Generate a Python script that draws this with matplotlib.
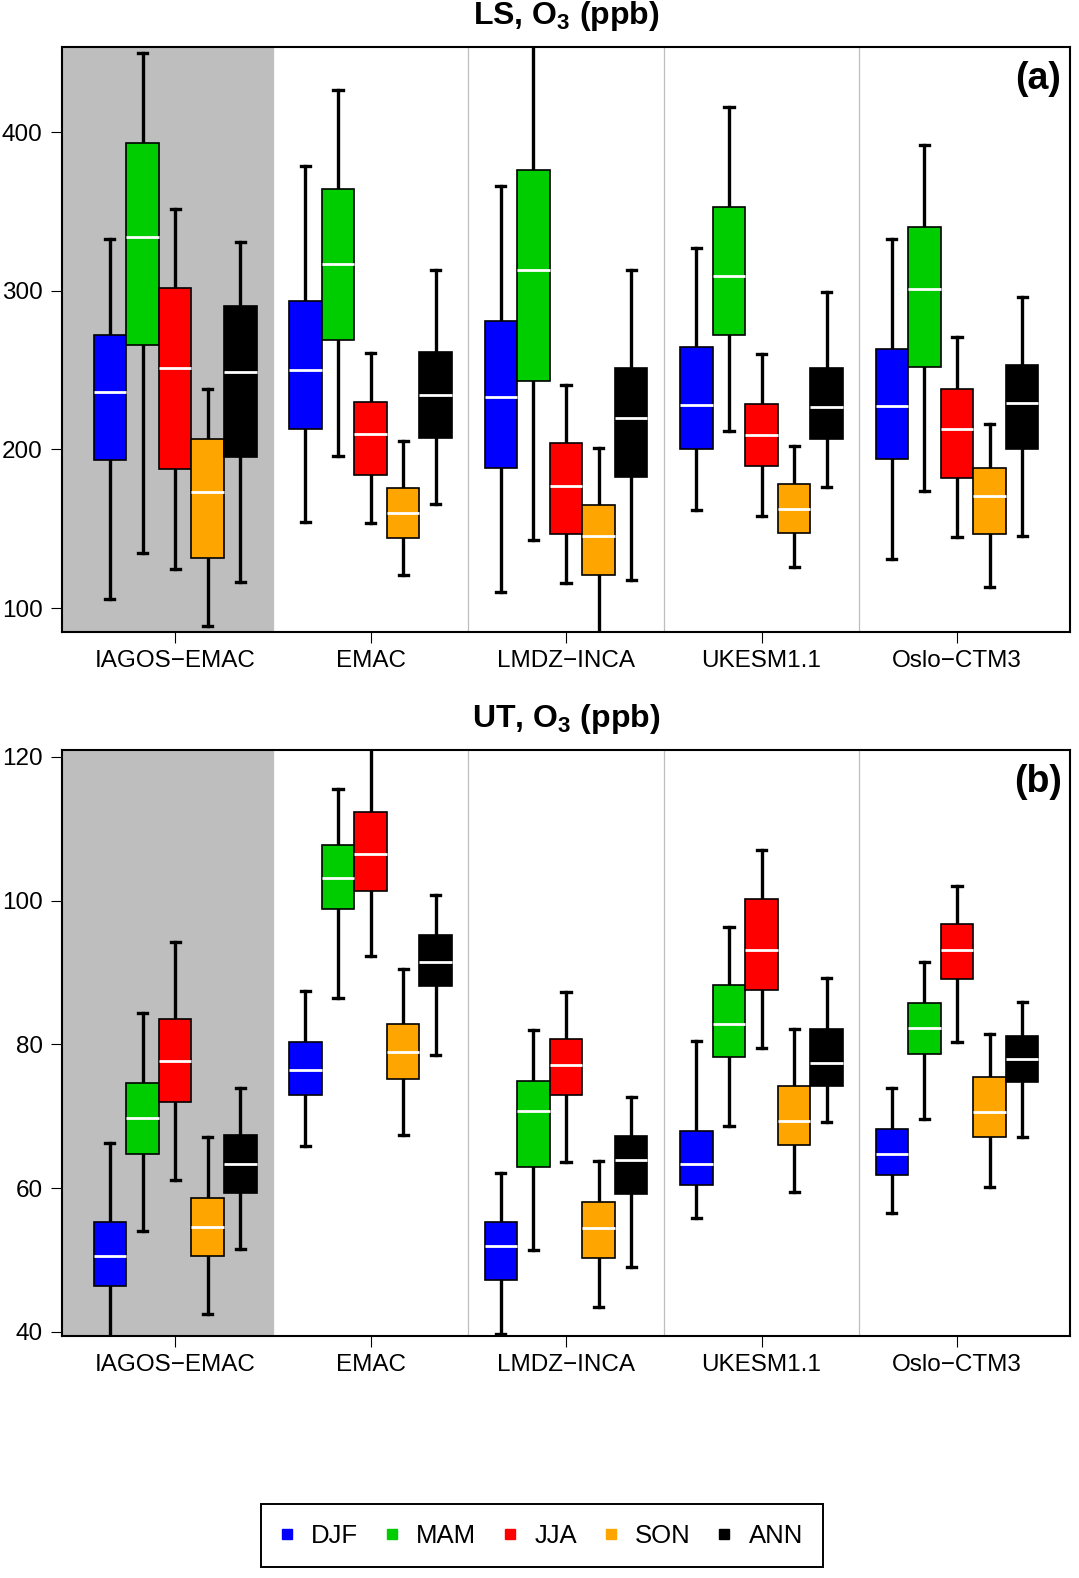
import matplotlib
matplotlib.use("Agg")
import matplotlib.pyplot as plt
from matplotlib.lines import Line2D
from matplotlib.patches import Rectangle

plt.rcParams["font.family"] = ["Liberation Sans", "DejaVu Sans"]
plt.rcParams["mathtext.fontset"] = "custom"
plt.rcParams["mathtext.rm"] = "Liberation Sans"
plt.rcParams["mathtext.bf"] = "Liberation Sans:bold"

# Categories
models = ["IAGOS\u2212EMAC", "EMAC", "LMDZ\u2212INCA", "UKESM1.1", "Oslo\u2212CTM3"]
seasons = ["DJF", "MAM", "JJA", "SON", "ANN"]
season_colors = ["#0000FF", "#00CD00", "#FF0000", "#FFA500", "#000000"]

# LS panel, rows = models, cols = seasons
ls_whislo = [[105.5, 134.9, 124.7, 88.9, 116.5],
             [154.1, 196.0, 153.4, 120.8, 165.4],
             [109.8, 142.6, 116.0, 75.0, 117.9],
             [162.0, 211.6, 158.0, 125.9, 176.2],
             [130.9, 174.0, 144.8, 113.4, 145.5]]
ls_q1 = [[193.0, 265.8, 187.9, 131.8, 195.4],
         [212.8, 268.9, 183.6, 144.0, 207.3],
         [188.2, 242.8, 146.9, 121.1, 182.6],
         [200.1, 272.0, 189.4, 147.4, 206.4],
         [193.9, 252.1, 182.2, 146.7, 200.1]]
ls_med = [[236.1, 334.1, 251.2, 173.3, 248.6],
          [250.0, 317.1, 210.0, 159.6, 234.2],
          [233.0, 313.0, 176.7, 145.5, 220.0],
          [227.9, 309.2, 209.2, 162.3, 226.7],
          [227.2, 301.0, 212.6, 170.4, 229.1]]
ls_q3 = [[271.8, 392.8, 301.5, 206.4, 290.5],
         [293.4, 364.3, 230.1, 175.7, 261.5],
         [280.7, 376.3, 204.0, 164.7, 251.4],
         [264.8, 352.6, 228.9, 178.1, 251.0],
         [263.2, 340.3, 238.0, 188.2, 252.9]]
ls_whishi = [[332.7, 449.6, 351.4, 238.0, 331.0],
             [378.9, 426.6, 260.5, 205.4, 313.0],
             [365.7, 470.0, 240.4, 201.1, 312.8],
             [326.9, 415.8, 259.8, 202.1, 299.1],
             [332.7, 391.6, 270.6, 216.0, 296.0]]

# UT panel
ut_whislo = [[37.0, 54.0, 61.1, 42.5, 51.6],
             [65.8, 86.4, 92.3, 67.4, 78.5],
             [39.7, 51.4, 63.7, 43.4, 49.1],
             [55.8, 68.7, 79.5, 59.4, 69.2],
             [56.5, 69.6, 80.4, 60.2, 67.1]]
ut_q1 = [[46.4, 64.8, 72.0, 50.6, 59.3],
         [72.9, 98.8, 101.4, 75.2, 88.1],
         [47.2, 63.0, 73.0, 50.3, 59.2],
         [60.4, 78.3, 87.6, 66.0, 74.2],
         [61.9, 78.7, 89.1, 67.1, 74.8]]
ut_med = [[50.5, 69.8, 77.7, 54.6, 63.3],
          [76.5, 103.2, 106.5, 78.9, 91.5],
          [51.9, 70.7, 77.2, 54.5, 63.9],
          [63.4, 82.9, 93.1, 69.4, 77.4],
          [64.8, 82.3, 93.1, 70.6, 78.0]]
ut_q3 = [[55.3, 74.7, 83.6, 58.7, 67.4],
         [80.4, 107.8, 112.3, 82.8, 95.2],
         [55.3, 74.9, 80.7, 58.1, 67.3],
         [68.0, 88.3, 100.3, 74.2, 82.2],
         [68.2, 85.7, 96.7, 75.5, 81.2]]
ut_whishi = [[66.3, 84.4, 94.2, 67.1, 74.0],
             [87.4, 115.6, 123.0, 90.5, 100.8],
             [62.1, 82.0, 87.3, 63.8, 72.7],
             [80.5, 96.4, 107.1, 82.1, 89.3],
             [73.9, 91.5, 102.1, 81.4, 85.9]]

ls_yticks = [100, 200, 300, 400]
ut_yticks = [40, 60, 80, 100, 120]


def draw_panel(ax, whislo, q1, med, q3, whishi, ylim, yticks, title, tag):
    # grey background for the observations group
    ax.axvspan(-0.5, 6, color="#BEBEBE", lw=0, zorder=0)
    for sep in [6, 12, 18, 24]:
        ax.axvline(sep, color="#BEBEBE", lw=0.9, zorder=0.5)

    stats, positions, colors = [], [], []
    for m in range(len(models)):
        for s in range(len(seasons)):
            stats.append(dict(whislo=whislo[m][s], q1=q1[m][s], med=med[m][s],
                              q3=q3[m][s], whishi=whishi[m][s]))
            positions.append(6 * m + s + 1)
            colors.append(season_colors[s])

    bp = ax.bxp(stats, positions=positions, widths=1.0, patch_artist=True,
                showfliers=False, capwidths=0.28,
                boxprops=dict(edgecolor="black", linewidth=1.2),
                medianprops=dict(color="white", linewidth=2.0),
                whiskerprops=dict(color="black", linewidth=2.4),
                capprops=dict(color="black", linewidth=2.4))
    for patch, c in zip(bp["boxes"], colors):
        patch.set_facecolor(c)
        patch.set_zorder(3)
    for line in bp["medians"]:
        line.set_zorder(4)

    ax.set_xlim(-0.47, 30.47)
    ax.set_ylim(*ylim)
    ax.set_yticks(yticks)
    ax.set_xticks([6 * m + 3 for m in range(len(models))])
    ax.set_xticklabels(models)
    ax.tick_params(axis="both", labelsize=17.5, length=8, width=0.8, direction="out")
    ax.tick_params(axis="y", pad=6)
    ax.tick_params(axis="x", pad=5)
    for sp in ax.spines.values():
        sp.set_linewidth(1.5)
        sp.set_zorder(5)

    ax.text(0.5, 1.053, title, transform=ax.transAxes, ha="center", va="center",
            fontsize=23, fontweight="bold")
    ax.text(0.968, 0.946, tag, transform=ax.transAxes, ha="center", va="center",
            fontsize=27, fontweight="bold")


fig = plt.figure(figsize=(10.79, 15.78), dpi=100)
ax_a = fig.add_axes([0.0575, 0.5995, 0.9342, 0.3707])
ax_b = fig.add_axes([0.0575, 0.1534, 0.9342, 0.3713])

draw_panel(ax_a, ls_whislo, ls_q1, ls_med, ls_q3, ls_whishi, (84.9, 453.6), ls_yticks,
           r"LS, O$_\mathbf{3}$ (ppb)", "(a)")
draw_panel(ax_b, ut_whislo, ut_q1, ut_med, ut_q3, ut_whishi, (39.44, 120.97), ut_yticks,
           r"UT, O$_\mathbf{3}$ (ppb)", "(b)")

# legend
handles = [Line2D([], [], marker="s", linestyle="none", markersize=7.6,
                  markerfacecolor=c, markeredgecolor=c, label=s)
           for s, c in zip(seasons, season_colors)]
fig.legend(handles=handles, loc="center left", bbox_to_anchor=(281 / 1079, 1 - 1536 / 1578),
           ncol=5, frameon=False, fontsize=18.5, borderpad=0, borderaxespad=0,
           handlelength=0.43, handletextpad=0.74, columnspacing=1.09)
fig.patches.append(Rectangle((261 / 1079, 1 - 1567 / 1578), (823 - 261) / 1079, 63 / 1578,
                             transform=fig.transFigure, fill=False, edgecolor="black",
                             linewidth=1.4))

fig.savefig("out.png", dpi=100)
